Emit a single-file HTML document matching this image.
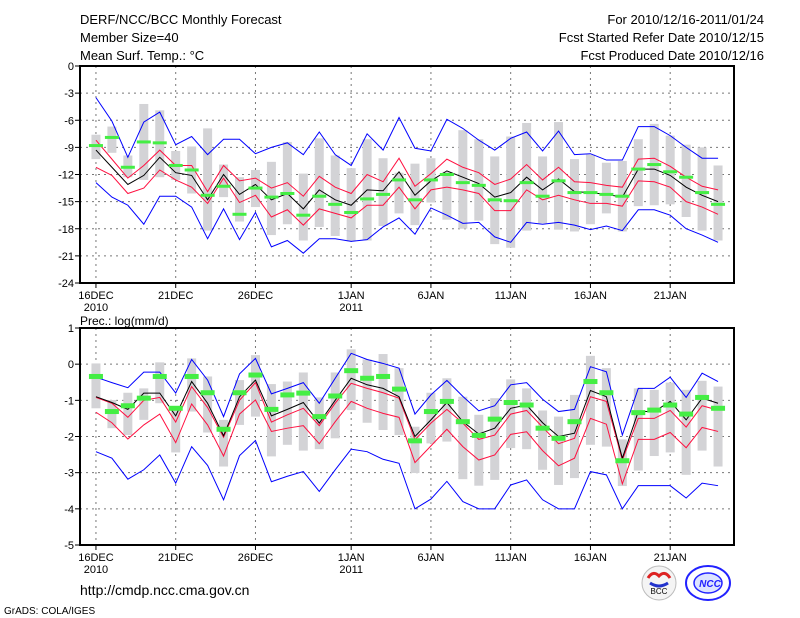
<!DOCTYPE html>
<html><head><meta charset="utf-8"><style>
body{margin:0;background:#fff;width:800px;height:618px;overflow:hidden}
svg{display:block}
text{font-family:"Liberation Sans",sans-serif;fill:#000}
</style></head><body>
<svg id="chart" width="800" height="618" viewBox="0 0 800 618">
<text x="80" y="24" font-size="13">DERF/NCC/BCC Monthly Forecast</text>
<text x="80" y="42" font-size="13">Member Size=40</text>
<text x="80" y="60" font-size="13">Mean Surf. Temp.: °C</text>
<text x="764" y="24" font-size="13" text-anchor="end">For 2010/12/16-2011/01/24</text>
<text x="764" y="42" font-size="13" text-anchor="end">Fcst Started Refer Date 2010/12/15</text>
<text x="764" y="60" font-size="13" text-anchor="end">Fcst Produced Date 2010/12/16</text>
<text x="80" y="325" font-size="12">Prec.: log(mm/d)</text>
<text x="80" y="595" font-size="14">http://cmdp.ncc.cma.gov.cn</text>
<text x="4" y="614" font-size="10">GrADS: COLA/IGES</text>
<g>
<circle cx="659" cy="583" r="17" fill="#f4f4f4" stroke="#bbb"/>
<path d="M648 578 q5 -8 11 -2 q6 -6 11 2" stroke="#d22" stroke-width="3" fill="none"/>
<path d="M650 583 q9 6 18 0" stroke="#23c" stroke-width="3" fill="none"/>
<text x="659" y="594" font-size="8" text-anchor="middle" font-family="Liberation Serif">BCC</text>
</g>
<g>
<ellipse cx="708" cy="583" rx="22" ry="17" fill="none" stroke="#22f" stroke-width="2"/>
<ellipse cx="708" cy="583" rx="14" ry="10" fill="#dde4ff" stroke="#22f" stroke-width="1.5"/>
<text x="710" y="587" font-size="10" text-anchor="middle" font-style="italic" style="fill:#22f;font-weight:bold">NCC</text>
</g>
</svg>
<script>
const days = ["16DEC","17","18","19","20","21DEC","22","23","24","25","26DEC","27","28","29","30","31","1JAN","2","3","4","5","6JAN","7","8","9","10","11JAN","12","13","14","15","16JAN","17","18","19","20","21JAN","22","23","24"];
const xTickLabels = [[0,"16DEC","2010"],[5,"21DEC",""],[10,"26DEC",""],[16,"1JAN","2011"],[21,"6JAN",""],[26,"11JAN",""],[31,"16JAN",""],[36,"21JAN",""]];
const tTicks = [0,-3,-6,-9,-12,-15,-18,-21,-24];
const pTicks = [1,0,-1,-2,-3,-4,-5];
// temperature
const tMean = [-9.3,-11.2,-13.1,-12.1,-10.1,-11.8,-12.1,-14.8,-12.0,-14.2,-13.1,-14.8,-14.1,-15.8,-13.7,-14.8,-15.4,-13.7,-13.8,-11.7,-14.3,-12.7,-11.6,-12.3,-13.0,-14.5,-14.0,-12.3,-13.7,-12.5,-13.9,-14.0,-14.2,-14.5,-11.4,-11.4,-12.1,-13.4,-14.3,-15.0];
const tRedHi = [-8.2,-10.3,-12.4,-11.0,-9.3,-11.0,-11.0,-13.9,-11.0,-12.7,-12.4,-13.5,-12.9,-14.4,-12.2,-13.4,-14.1,-12.0,-12.8,-10.2,-13.3,-11.9,-10.3,-11.2,-11.8,-13.1,-12.5,-10.9,-12.6,-11.2,-12.8,-12.9,-13.2,-13.4,-10.3,-10.2,-11.1,-12.3,-13.3,-13.7];
const tRedLo = [-11.2,-12.1,-14.1,-13.5,-11.5,-12.6,-13.4,-15.2,-12.4,-15.1,-14.3,-16.7,-15.9,-17.6,-15.8,-16.3,-16.8,-15.4,-15.4,-13.4,-15.8,-13.7,-13.4,-13.7,-14.1,-16.0,-16.0,-13.7,-14.8,-14.3,-14.8,-15.2,-15.2,-15.5,-12.7,-12.8,-13.4,-15.0,-15.6,-16.4];
const tBlueHi = [-3.5,-6.1,-10.1,-6.2,-5.1,-8.7,-7.8,-9.8,-8.1,-8.1,-9.7,-9.0,-8.5,-9.8,-7.3,-9.8,-11.0,-7.5,-9.3,-5.7,-9.1,-9.4,-5.9,-6.9,-8.2,-9.3,-8.0,-7.3,-9.4,-7.2,-9.8,-9.7,-10.4,-10.4,-6.7,-6.7,-7.7,-9.0,-10.2,-10.2];
const tBlueLo = [-12.9,-14.5,-15.4,-17.5,-14.4,-14.4,-15.6,-19.1,-15.8,-19.2,-16.2,-20.0,-19.3,-20.7,-19.1,-19.1,-19.4,-19.2,-17.8,-16.8,-18.6,-15.7,-16.5,-17.4,-17.3,-18.9,-19.5,-17.3,-17.5,-17.3,-17.6,-18.1,-17.7,-18.2,-15.9,-15.9,-16.5,-18.0,-18.7,-19.5];
const tObs = [-8.8,-7.9,-11.2,-8.4,-8.5,-11.0,-11.5,-14.3,-13.3,-16.4,-13.5,-14.5,-14.1,-16.5,-14.4,-15.3,-16.2,-14.7,-14.2,-12.6,-14.8,-12.6,-12.0,-12.9,-13.2,-14.8,-14.9,-12.9,-14.4,-12.7,-14.0,-14.0,-14.2,-14.4,-11.4,-10.9,-11.7,-12.3,-14.0,-15.3];
const tBoxHi = [-7.6,-6.7,-9.9,-4.2,-4.9,-9.4,-8.9,-6.9,-10.9,-12.3,-11.5,-10.6,-8.4,-11.9,-8.0,-9.9,-11.3,-8.1,-10.2,-11.8,-10.8,-10.2,-11.7,-7.1,-8.1,-10.0,-7.8,-6.3,-10.0,-6.2,-10.3,-9.8,-10.7,-10.5,-8.1,-6.4,-7.7,-8.7,-9.0,-11.0];
const tBoxLo = [-10.3,-9.6,-12.3,-12.6,-12.3,-12.6,-14.1,-18.2,-14.5,-17.2,-15.6,-18.7,-17.5,-19.3,-17.8,-18.8,-19.4,-19.3,-17.7,-16.3,-17.6,-15.1,-17.0,-18.0,-17.1,-19.7,-20.1,-18.2,-17.4,-18.1,-18.3,-17.5,-16.3,-18.3,-15.5,-15.4,-15.3,-16.7,-18.2,-19.3];
// precipitation
const pMean = [-0.9,-1.06,-1.25,-0.8,-0.8,-1.43,-0.48,-1.08,-1.98,-0.9,-0.44,-1.43,-1.25,-1.06,-1.63,-1.0,-0.39,-0.57,-0.67,-0.9,-2.0,-1.54,-1.06,-1.59,-1.93,-1.77,-1.22,-1.13,-1.62,-2.0,-1.91,-0.73,-0.9,-2.6,-1.31,-1.31,-1.03,-1.54,-0.94,-1.08];
const pRedHi = [-0.92,-1.08,-1.47,-1.0,-0.92,-1.6,-0.62,-1.2,-2.02,-1.0,-0.51,-1.6,-1.4,-1.22,-1.7,-1.08,-0.53,-0.67,-0.79,-0.94,-2.09,-1.63,-1.25,-1.63,-2.08,-1.96,-1.38,-1.28,-1.74,-2.2,-2.05,-0.9,-1.03,-2.65,-1.5,-1.5,-1.28,-1.74,-1.15,-1.27];
const pRedLo = [-1.33,-1.62,-2.07,-1.68,-1.38,-2.17,-1.1,-1.68,-2.54,-1.38,-0.99,-1.86,-1.77,-1.7,-2.2,-1.59,-1.03,-1.22,-1.36,-1.47,-2.72,-2.26,-1.8,-2.28,-2.65,-2.51,-1.94,-1.87,-2.39,-2.81,-2.6,-1.5,-1.66,-3.31,-2.08,-2.08,-1.89,-2.31,-1.75,-1.86];
const pBlueHi = [-0.36,-0.51,-0.65,-0.22,-0.22,-0.8,0.13,-0.44,-1.45,-0.27,0.16,-0.82,-0.67,-0.51,-1.08,-0.39,0.3,0.13,0.02,-0.11,-1.38,-0.85,-0.45,-0.89,-1.29,-1.15,-0.57,-0.51,-0.97,-1.31,-1.25,-0.07,-0.21,-1.96,-0.67,-0.67,-0.36,-0.92,-0.25,-0.48];
const pBlueLo = [-2.42,-2.6,-3.18,-2.92,-2.51,-3.29,-2.28,-2.8,-3.75,-2.53,-2.11,-3.25,-3.1,-2.97,-3.52,-2.92,-2.35,-2.42,-2.63,-2.74,-4.0,-3.73,-3.24,-3.8,-4.0,-4.0,-3.34,-3.2,-3.75,-4.0,-4.0,-2.97,-3.06,-4.0,-3.36,-3.36,-3.36,-3.7,-3.29,-3.36];
const pObs = [-0.34,-1.31,-1.15,-0.94,-0.34,-1.22,-0.34,-0.79,-1.8,-0.79,-0.3,-1.25,-0.85,-0.8,-1.45,-0.88,-0.18,-0.39,-0.34,-0.69,-2.12,-1.31,-1.03,-1.59,-1.97,-1.52,-1.06,-1.13,-1.77,-2.05,-1.59,-0.48,-0.79,-2.67,-1.34,-1.27,-1.13,-1.38,-0.92,-1.22];
const pBoxHi = [0.02,-0.99,-0.79,-0.67,0.05,-1.17,0.16,-0.34,-1.54,-0.44,0.25,-0.55,-0.48,-0.23,-0.92,-0.23,0.41,0.13,0.28,-0.11,-1.73,-0.79,-0.39,-0.9,-1.4,-0.94,-0.42,-0.67,-1.28,-1.45,-0.85,0.23,-0.11,-2.08,-0.67,-0.71,-0.51,-0.71,-0.46,-0.62];
const pBoxLo = [-1.22,-1.77,-1.96,-1.54,-1.08,-2.44,-1.31,-1.89,-2.83,-1.68,-1.45,-2.55,-2.23,-2.39,-2.35,-2.05,-1.27,-1.62,-1.82,-1.96,-3.01,-2.19,-2.14,-3.18,-3.36,-3.2,-2.32,-2.35,-2.92,-3.34,-3.15,-2.23,-2.28,-3.37,-2.94,-2.54,-2.44,-3.06,-2.39,-2.83];

const NS='http://www.w3.org/2000/svg';
const svg=document.getElementById('chart');
const L=80,R=734;
function xs(i){return L+(i+1)*(R-L)/41;}
function mk(tag,attrs,parent){const e=document.createElementNS(NS,tag);for(const k in attrs)e.setAttribute(k,attrs[k]);(parent||svg).appendChild(e);return e;}

function panel(name,top,bot,vmax,vmin,ticks,boxHi,boxLo,red1,red2,blue1,blue2,mean,obs,obsH){
  const ys=v=>top+(vmax-v)*(bot-top)/(vmax-vmin);
  const g=mk('g',{});
  
  
  ticks.forEach(t=>{
    const ln=mk('line',{x1:L,x2:R,y1:ys(t),y2:ys(t),stroke:'#777','stroke-dasharray':'2,4','stroke-width':1},g);
    
    
    const tk=mk('line',{x1:L-5,x2:L,y1:ys(t),y2:ys(t),stroke:'#000'},g);
    
    
    const tx=mk('text',{x:L-6,y:ys(t)+4,'font-size':11,'text-anchor':'end'},g);
    tx.textContent=String(t);
    
    
  });
  xTickLabels.forEach(([i,a,b])=>{
    const ln=mk('line',{x1:xs(i),x2:xs(i),y1:top,y2:bot,stroke:'#777','stroke-dasharray':'2,4'},g);
    
    
    const tk=mk('line',{x1:xs(i),x2:xs(i),y1:bot,y2:bot+5,stroke:'#000'},g);
    
    
    const t1=mk('text',{x:xs(i),y:bot+16,'font-size':11,'text-anchor':'middle'},g);
    t1.textContent=a;
    
    
    if(b){const t2=mk('text',{x:xs(i),y:bot+28,'font-size':11,'text-anchor':'middle'},g);t2.textContent=b;
      
      }
  });
  days.forEach((d,i)=>{
    const r=mk('rect',{x:xs(i)-4.5,y:ys(boxHi[i]),width:9,height:ys(boxLo[i])-ys(boxHi[i]),fill:'#d3d3d6'},g);
    
    
  });
  const lines=[[blue1,'#0000ff','max-line'],[blue2,'#0000ff','min-line'],[red1,'#ff1040','upper-std-line'],[red2,'#ff1040','lower-std-line'],[mean,'#000','ensemble-mean-line']];
  lines.forEach(([arr,c,n])=>{
    const p=mk('polyline',{points:arr.map((v,i)=>xs(i)+','+ys(v)).join(' '),fill:'none',stroke:c,'stroke-width':1},g);
    
    
  });
  obs.forEach((v,i)=>{
    const r=mk('rect',{x:xs(i)-7,y:ys(v)-obsH/2,width:14,height:obsH,fill:'#44ee44'},g);
    
    
  });
  const fr=mk('rect',{x:L,y:top,width:R-L,height:bot-top,fill:'none',stroke:'#000','stroke-width':2},g);
  
  
}
panel('temperature',66,283,0,-24,tTicks,tBoxHi,tBoxLo,tRedHi,tRedLo,tBlueHi,tBlueLo,tMean,tObs,3);
panel('precipitation',328,545,1,-5,pTicks,pBoxHi,pBoxLo,pRedHi,pRedLo,pBlueHi,pBlueLo,pMean,pObs,5);
</script>
</body></html>
